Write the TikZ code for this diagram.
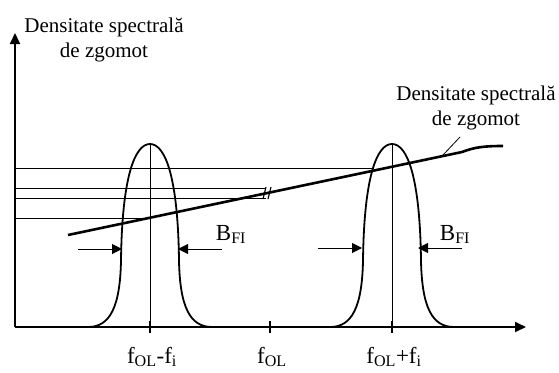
\documentclass[tikz,border=0pt]{standalone}
\usepackage{fontspec}
\setmainfont{Liberation Serif}
\usetikzlibrary{arrows.meta, positioning}

\begin{document}
\begin{tikzpicture}[x=1pt, y=-1pt,
    axa/.style={line width=1.8pt, -{Triangle[length=11pt, width=10pt]}},
    zgomot/.style={line width=2.6pt},
    curba/.style={line width=1.8pt},
    subtire/.style={line width=0.8pt},
    reper/.style={line width=1.4pt},
    sageata/.style={line width=1pt, -{Triangle[length=10pt, width=10pt]}},
    eticheta/.style={font=\fontsize{21}{25}\selectfont, align=center, inner sep=0pt},
    frecv/.style={font=\fontsize{23}{25}\selectfont, inner sep=0pt},
    banda/.style={font=\fontsize{23}{25}\selectfont, inner sep=0pt},
    filtru/.pic={
        \draw[curba] (-62,0) .. controls (-40,0) and (-30,-20) .. (-29,-66)
            .. controls (-28,-151) and (-15,-183) .. (0,-183)
            .. controls (15,-183) and (28,-151) .. (29,-66)
            .. controls (30,-20) and (40,0) .. (62,0);
        \draw[subtire] (0,-183) -- (0,0);
    },
]
    \useasboundingbox (0,0) rectangle (559,372);
    \coordinate (O) at (15,327);
    % nivelele de zgomot
    \foreach \y/\xf in {168/372, 188/266, 198/266, 218/150}
        \draw[subtire] (15,\y) -- (\xf,\y);
    % filtrele
    \pic at (150,327) {filtru};
    \pic at (392,327) {filtru};
    % axele
    \draw[axa] (O) -- (15,33);
    \draw[axa] (O) -- (526,327);
    \foreach \x/\nume/\txt in {150/fa/f\textsubscript{OL}-f\textsubscript{i},
                               270/fb/f\textsubscript{OL},
                               392/fc/f\textsubscript{OL}+f\textsubscript{i}} {
        \draw[reper] (\x,321) -- (\x,333);
        \node[frecv, anchor=base] (\nume) at (\x+2,363) {\txt};
    }
    % densitatea spectrala
    \coordinate (zs) at (68,235);
    \coordinate (zk) at (462,152);
    \coordinate (zf) at (503,146);
    \draw[zgomot] (zs) -- (zk) .. controls (475,147) and (485,146) .. (zf);
    \draw[line width=1.2pt] (263,199) -- (266,187) (268,199) -- (271,187);
    % latimea de banda
    \draw[sageata] (78,249) -- (122,249);
    \draw[sageata] (222,249) -- (178,249);
    \draw[sageata] (318,248) -- (362,248);
    \draw[sageata] (462,248) -- (418,248);
    \node[banda, anchor=base] (bst) at (231,240) {B\textsubscript{FI}};
    \node[banda, anchor=base] (bdr) at (455,240) {B\textsubscript{FI}};
    % etichete
    \node[eticheta, anchor=north] (titluY) at (104,18) {Densitate spectrală\\de zgomot};
    \node[eticheta, anchor=north] (titluZ) at (476,86) {Densitate spectrală\\de zgomot};
    \coordinate (capat) at (460,137);
    \coordinate (pz) at (443,155);
    \draw[subtire] (capat) -- (pz);
\end{tikzpicture}
\end{document}
